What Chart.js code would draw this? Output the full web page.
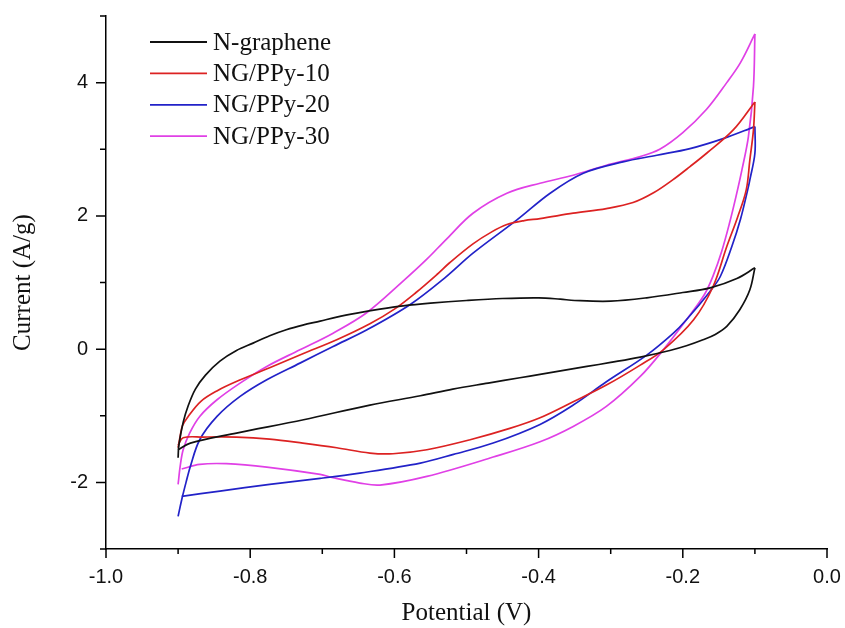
<!DOCTYPE html>
<html>
<head>
<meta charset="utf-8">
<script src="https://cdn.jsdelivr.net/npm/chart.js@4.4.1/dist/chart.umd.min.js"></script>
<style>
  html, body { margin: 0; padding: 0; background: #fff; }
  #wrap { width: 845px; height: 628px; }
</style>
</head>
<body>
<div id="wrap"><canvas id="cv"></canvas></div>
<script>
// Potential (V) / current (A/g) pairs, forward scan (-0.9 -> -0.1) and reverse scan
const nGrapheneFwd = [[-0.9,-1.63],[-0.899,-1.45],[-0.893,-1.1],[-0.886,-0.85],[-0.876,-0.6],[-0.862,-0.39],[-0.842,-0.18],[-0.819,-0.02],[-0.796,0.09],[-0.773,0.2],[-0.75,0.29],[-0.727,0.36],[-0.703,0.42],[-0.68,0.48],[-0.652,0.54],[-0.62,0.6],[-0.588,0.65],[-0.55,0.69],[-0.5,0.73],[-0.45,0.76],[-0.4,0.77],[-0.37,0.75],[-0.35,0.73],[-0.3,0.72],[-0.25,0.77],[-0.2,0.85],[-0.162,0.92],[-0.125,1.06],[-0.1,1.22]];
const nGrapheneRev = [[-0.1,1.22],[-0.107,0.89],[-0.121,0.59],[-0.139,0.34],[-0.155,0.22],[-0.172,0.14],[-0.195,0.05],[-0.218,-0.02],[-0.259,-0.12],[-0.3,-0.2],[-0.333,-0.26],[-0.398,-0.38],[-0.426,-0.43],[-0.47,-0.51],[-0.519,-0.6],[-0.564,-0.7],[-0.634,-0.84],[-0.726,-1.06],[-0.819,-1.26],[-0.883,-1.41],[-0.9,-1.51]];

const ppy10Fwd = [[-0.9,-1.48],[-0.897,-1.3],[-0.894,-1.15],[-0.886,-1.01],[-0.868,-0.78],[-0.845,-0.62],[-0.82,-0.49],[-0.773,-0.28],[-0.727,-0.07],[-0.68,0.14],[-0.634,0.38],[-0.6,0.6],[-0.57,0.85],[-0.541,1.12],[-0.523,1.3],[-0.491,1.58],[-0.465,1.76],[-0.444,1.87],[-0.42,1.93],[-0.398,1.96],[-0.352,2.04],[-0.306,2.11],[-0.269,2.2],[-0.24,2.35],[-0.214,2.54],[-0.19,2.74],[-0.167,2.94],[-0.13,3.29],[-0.1,3.71]];
const ppy10Rev = [[-0.1,3.71],[-0.102,3.29],[-0.107,2.84],[-0.112,2.39],[-0.124,1.98],[-0.139,1.54],[-0.158,0.94],[-0.185,0.44],[-0.227,-0.01],[-0.259,-0.24],[-0.306,-0.54],[-0.352,-0.79],[-0.398,-1.03],[-0.44,-1.19],[-0.495,-1.36],[-0.555,-1.51],[-0.602,-1.57],[-0.634,-1.56],[-0.68,-1.48],[-0.727,-1.41],[-0.773,-1.35],[-0.819,-1.32],[-0.865,-1.32],[-0.893,-1.33],[-0.9,-1.44]];

const ppy20Fwd = [[-0.9,-2.51],[-0.895,-2.26],[-0.889,-2.0],[-0.883,-1.76],[-0.87,-1.36],[-0.846,-1.01],[-0.814,-0.71],[-0.777,-0.46],[-0.731,-0.21],[-0.685,0.04],[-0.638,0.29],[-0.578,0.67],[-0.53,1.07],[-0.491,1.44],[-0.43,1.94],[-0.384,2.34],[-0.338,2.64],[-0.283,2.81],[-0.236,2.91],[-0.19,3.01],[-0.144,3.16],[-0.1,3.34]];
const ppy20Rev = [[-0.1,3.34],[-0.1,2.94],[-0.107,2.54],[-0.11,2.39],[-0.12,1.95],[-0.132,1.54],[-0.148,1.09],[-0.162,0.87],[-0.195,0.44],[-0.213,0.24],[-0.25,-0.09],[-0.306,-0.49],[-0.352,-0.84],[-0.398,-1.13],[-0.463,-1.41],[-0.518,-1.58],[-0.564,-1.71],[-0.648,-1.86],[-0.703,-1.94],[-0.773,-2.03],[-0.842,-2.13],[-0.895,-2.21]];

const ppy30Fwd = [[-0.9,-2.03],[-0.897,-1.75],[-0.893,-1.51],[-0.884,-1.26],[-0.87,-1.01],[-0.846,-0.76],[-0.814,-0.51],[-0.777,-0.26],[-0.731,-0.01],[-0.685,0.24],[-0.638,0.55],[-0.588,1.02],[-0.555,1.35],[-0.527,1.66],[-0.491,2.04],[-0.444,2.34],[-0.398,2.49],[-0.352,2.61],[-0.306,2.76],[-0.259,2.89],[-0.232,3.0],[-0.2,3.25],[-0.167,3.6],[-0.139,4.0],[-0.12,4.3],[-0.1,4.73]];
const ppy30Rev = [[-0.1,4.73],[-0.102,3.94],[-0.109,3.19],[-0.118,2.69],[-0.126,2.3],[-0.135,1.9],[-0.146,1.47],[-0.158,1.1],[-0.17,0.82],[-0.195,0.44],[-0.227,-0.01],[-0.259,-0.41],[-0.306,-0.86],[-0.352,-1.16],[-0.398,-1.39],[-0.463,-1.62],[-0.555,-1.91],[-0.62,-2.04],[-0.648,-2.01],[-0.685,-1.93],[-0.703,-1.88],[-0.777,-1.77],[-0.833,-1.72],[-0.87,-1.73],[-0.895,-1.8]];

const seriesNames = ['N-graphene', 'NG/PPy-10', 'NG/PPy-20', 'NG/PPy-30'];
const seriesColors = ['#111111', '#dc2222', '#2222c8', '#e040e6'];
const seriesData = [
  [nGrapheneFwd, nGrapheneRev],
  [ppy10Fwd, ppy10Rev],
  [ppy20Fwd, ppy20Rev],
  [ppy30Fwd, ppy30Rev]
];

const xMajorTicks = [-1.0, -0.8, -0.6, -0.4, -0.2, 0.0];
const xMinorTicks = [-0.9, -0.7, -0.5, -0.3, -0.1];
const xTickLabels = ['-1.0', '-0.8', '-0.6', '-0.4', '-0.2', '0.0'];
const yMajorTicks = [-2, 0, 2, 4];
const yMinorTicks = [-3, -1, 1, 3, 5];

const toPts = arr => arr.map(p => ({ x: p[0], y: p[1] }));

const datasets = [];
seriesData.forEach((branches, i) => {
  branches.forEach(b => {
    datasets.push({
      label: seriesNames[i],
      data: toPts(b),
      borderColor: seriesColors[i],
      backgroundColor: seriesColors[i],
      borderWidth: 1.7,
      pointRadius: 0,
      showLine: true,
      tension: 0.35,
      fill: false
    });
  });
});

// minor / major tick marks drawn outward like the original plot
const tickMarks = {
  id: 'tickMarks',
  afterDraw(chart) {
    const { ctx, chartArea: a, scales: { x, y } } = chart;
    ctx.save();
    ctx.strokeStyle = '#000';
    ctx.lineWidth = 1.5;
    ctx.beginPath();
    xMajorTicks.forEach(v => { const p = x.getPixelForValue(v); ctx.moveTo(p, a.bottom); ctx.lineTo(p, a.bottom + 9); });
    xMinorTicks.forEach(v => { const p = x.getPixelForValue(v); ctx.moveTo(p, a.bottom); ctx.lineTo(p, a.bottom + 5); });
    yMajorTicks.forEach(v => { const p = y.getPixelForValue(v); ctx.moveTo(a.left, p); ctx.lineTo(a.left - 10, p); });
    yMinorTicks.forEach(v => { const p = y.getPixelForValue(v); ctx.moveTo(a.left, p); ctx.lineTo(a.left - 6, p); });
    ctx.stroke();
    ctx.restore();
  }
};

// legend in the upper-left corner of the plot
const cornerLegend = {
  id: 'cornerLegend',
  afterDraw(chart) {
    const ctx = chart.ctx;
    ctx.save();
    ctx.font = '25px "Liberation Serif", "Times New Roman", serif';
    ctx.textBaseline = 'middle';
    ctx.fillStyle = '#111';
    seriesNames.forEach((name, i) => {
      const yy = 42 + i * 31.4;
      ctx.strokeStyle = seriesColors[i];
      ctx.lineWidth = 1.8;
      ctx.beginPath();
      ctx.moveTo(150, yy);
      ctx.lineTo(207, yy);
      ctx.stroke();
      ctx.fillText(name, 213, yy + 1);
    });
    ctx.restore();
  }
};

new Chart(document.getElementById('cv'), {
  type: 'scatter',
  data: { datasets },
  options: {
    responsive: true,
    maintainAspectRatio: false,
    animation: false,
    layout: { padding: { top: 16, right: 18, left: 0, bottom: 0 } },
    plugins: {
      legend: { display: false },
      tooltip: { enabled: false }
    },
    scales: {
      x: {
        type: 'linear',
        min: -1.0,
        max: 0.0,
        afterFit: s => { s.height = 79; s.paddingLeft = 0; s.paddingRight = 0; },
        grid: { display: false, drawTicks: false },
        border: { display: true, color: '#000', width: 1.5 },
        ticks: {
          stepSize: 0.2,
          padding: 16,
          color: '#111',
          font: { family: '"Liberation Sans", Arial, sans-serif', size: 20 },
          callback: function (v) {
            let best = 0;
            xMajorTicks.forEach((t, i) => { if (Math.abs(t - v) < Math.abs(xMajorTicks[best] - v)) best = i; });
            return xTickLabels[best];
          }
        },
        title: {
          display: true,
          text: 'Potential (V)',
          color: '#111',
          padding: { top: 0, bottom: 0 },
          font: { family: '"Liberation Serif", "Times New Roman", serif', size: 25 }
        }
      },
      y: {
        type: 'linear',
        min: -3,
        max: 5,
        afterFit: s => { s.width = 106; s.paddingTop = 0; s.paddingBottom = 0; },
        grid: { display: false, drawTicks: false },
        border: { display: true, color: '#000', width: 1.5 },
        ticks: {
          stepSize: 1,
          padding: 18,
          color: '#111',
          font: { family: '"Liberation Sans", Arial, sans-serif', size: 20 },
          callback: v => (yMajorTicks.includes(v) ? String(v) : '')
        },
        title: {
          display: true,
          text: 'Current (A/g)',
          color: '#111',
          padding: { top: 8, bottom: 0 },
          font: { family: '"Liberation Serif", "Times New Roman", serif', size: 25 }
        }
      }
    }
  },
  plugins: [tickMarks, cornerLegend]
});
</script>
</body>
</html>
